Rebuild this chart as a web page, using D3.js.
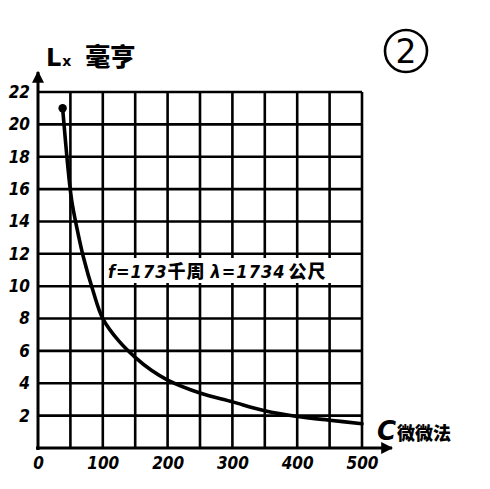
<!DOCTYPE html>
<html>
<head>
<meta charset="utf-8">
<script src="https://cdn.jsdelivr.net/npm/d3@7"></script>
<style>
  body { margin: 0; background: #fff; }
  svg { display: block; }
  .num { font-family: "DejaVu Sans Condensed", "DejaVu Sans", sans-serif; font-weight: bold; font-style: italic; font-size: 17px; fill: #000; }
  .cjk { font-family: "Noto Sans CJK SC", sans-serif; font-weight: 900; fill: #000; }
</style>
</head>
<body>
<div id="chart"></div>
<script>
// capacitance C (微微法) and inductance Lx (毫亨)
const capValues = [38, 47, 52, 60, 70, 85, 100, 125, 150, 175, 200, 250, 300, 350, 400, 450, 500];
const lxValues = [21, 17, 15.3, 13.6, 11.8, 9.7, 8.0, 6.6, 5.6, 4.8, 4.2, 3.4, 2.85, 2.3, 1.95, 1.72, 1.5];
const xTicks = [0, 100, 200, 300, 400, 500];
const yTicks = [2, 4, 6, 8, 10, 12, 14, 16, 18, 20, 22];
const xGrid = [50, 100, 150, 200, 250, 300, 350, 400, 450, 500];
const yGrid = [2, 4, 6, 8, 10, 12, 14, 16, 18, 20, 22];

const W = 490, H = 489;
const x = d3.scaleLinear().domain([0, 500]).range([38, 362]);
const y = d3.scaleLinear().domain([0, 22]).range([448, 92]);

const svg = d3.select("#chart").append("svg")
  .attr("width", W).attr("height", H);

// grid
const grid = svg.append("g").attr("stroke", "#000").attr("stroke-width", 2.6);
grid.selectAll("line.v").data(xGrid).enter().append("line")
  .attr("x1", d => x(d)).attr("x2", d => x(d))
  .attr("y1", y(0)).attr("y2", y(22));
grid.selectAll("line.h").data(yGrid).enter().append("line")
  .attr("x1", x(0)).attr("x2", x(500))
  .attr("y1", d => y(d)).attr("y2", d => y(d));

// axes with arrows
svg.append("defs").append("marker")
  .attr("id", "arrow").attr("viewBox", "0 0 10 10")
  .attr("refX", 9).attr("refY", 5)
  .attr("markerWidth", 4).attr("markerHeight", 4)
  .attr("orient", "auto")
  .append("path").attr("d", "M0,0 L10,5 L0,10 z").attr("fill", "#000");

svg.append("line")
  .attr("x1", x(0)).attr("x2", x(0))
  .attr("y1", y(0) + 2).attr("y2", 72)
  .attr("stroke", "#000").attr("stroke-width", 3)
  .attr("marker-end", "url(#arrow)");
svg.append("line")
  .attr("x1", x(0) - 2).attr("x2", 392)
  .attr("y1", y(0)).attr("y2", y(0))
  .attr("stroke", "#000").attr("stroke-width", 3)
  .attr("marker-end", "url(#arrow)");

// tick labels
const xAxis = svg.append("g")
  .attr("transform", "translate(0," + y(0) + ")")
  .call(d3.axisBottom(x).tickValues(xTicks).tickSize(0).tickPadding(9));
xAxis.select(".domain").remove();
xAxis.selectAll("text").attr("class", "num").attr("font-size", null).attr("font-family", null);

const yAxis = svg.append("g")
  .attr("transform", "translate(" + x(0) + ",0)")
  .call(d3.axisLeft(y).tickValues(yTicks).tickSize(0).tickPadding(8));
yAxis.select(".domain").remove();
yAxis.selectAll("text").attr("class", "num").attr("font-size", null).attr("font-family", null);

// annotation box
svg.append("rect")
  .attr("x", 104).attr("y", 258).attr("width", 232).attr("height", 25)
  .attr("fill", "#fff");
const note = svg.append("text").attr("x", 108).attr("y", 278)
  .attr("class", "cjk").attr("font-size", 18).attr("letter-spacing", 1);
note.append("tspan").attr("font-style", "italic")
  .attr("font-family", "DejaVu Sans Condensed, DejaVu Sans").text("f=173");
note.append("tspan").text("千周 ");
note.append("tspan").attr("font-style", "italic")
  .attr("font-family", "DejaVu Sans Condensed, DejaVu Sans").text("λ=1734");
note.append("tspan").attr("dx", 3).text("公尺");

// curve
const pts = capValues.map((c, i) => [c, lxValues[i]]);
const line = d3.line().x(d => x(d[0])).y(d => y(d[1])).curve(d3.curveCatmullRom.alpha(0.5));
svg.append("path").datum(pts)
  .attr("d", line)
  .attr("fill", "none").attr("stroke", "#000").attr("stroke-width", 3.6)
  .attr("stroke-linecap", "round");
svg.append("circle")
  .attr("cx", x(capValues[0])).attr("cy", y(lxValues[0])).attr("r", 4.2)
  .attr("fill", "#000");

// titles
const yTitle = svg.append("text").attr("x", 46).attr("y", 66).attr("class", "cjk");
yTitle.append("tspan").attr("font-family", "DejaVu Sans, sans-serif").attr("font-weight", "bold")
  .attr("font-size", 24).text("L");
yTitle.append("tspan").attr("font-family", "DejaVu Sans, sans-serif").attr("font-weight", "bold")
  .attr("font-size", 14).attr("dx", 1).text("x");
yTitle.append("tspan").attr("font-size", 25).attr("dx", 14).text("毫亨");

const xTitle = svg.append("text").attr("x", 377).attr("y", 440).attr("class", "cjk");
xTitle.append("tspan").attr("font-family", "DejaVu Sans, sans-serif").attr("font-style", "italic")
  .attr("font-weight", "bold").attr("font-size", 26).text("C");
xTitle.append("tspan").attr("font-size", 18).attr("dx", 1).text("微微法");

// circled number
svg.append("circle").attr("cx", 406).attr("cy", 51).attr("r", 21)
  .attr("fill", "none").attr("stroke", "#000").attr("stroke-width", 2.6);
svg.append("text").attr("x", 406).attr("y", 63).attr("text-anchor", "middle")
  .attr("font-family", "DejaVu Sans, sans-serif").attr("font-size", 33).text("2");
</script>
</body>
</html>
